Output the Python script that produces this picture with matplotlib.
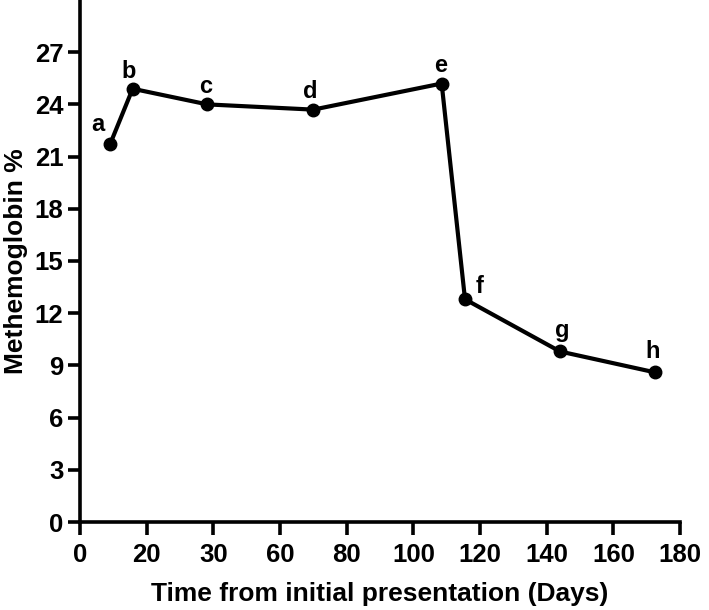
import matplotlib.pyplot as plt

# data
dias = [9.0, 15.8, 38.2, 70.0, 108.5, 115.5, 144.0, 172.5]
metahb = [21.7, 24.9, 24.0, 23.7, 25.2, 12.8, 9.8, 8.6]
etiquetas = ['a', 'b', 'c', 'd', 'e', 'f', 'g', 'h']
# label offsets in pixels (dx, dy)
desplazamientos = [(-12, 20), (-4, 17), (-2, 18), (-3, 18), (-1, 18), (15, 13), (2, 21), (-2, 21)]

xticks_pos = [0, 20, 40, 60, 80, 100, 120, 140, 160, 180]
xticks_txt = ['0', '20', '30', '60', '80', '100', '120', '140', '160', '180']
yticks_pos = [0, 3, 6, 9, 12, 15, 18, 21, 24, 27]

plt.rcParams['font.family'] = ['Liberation Sans', 'DejaVu Sans']
plt.rcParams['font.weight'] = 'bold'

fig = plt.figure(figsize=(7.09, 6.10), dpi=100)
ax = fig.add_axes([80 / 709, 88 / 610, 600 / 709, 522 / 610])

ax.plot(dias, metahb, color='black', linewidth=3.0, marker='o', markersize=9)

for x, y, t, (dx, dy) in zip(dias, metahb, etiquetas, desplazamientos):
    ax.annotate(t, (x, y), xytext=(dx, dy), textcoords='offset pixels',
                ha='center', va='center', fontsize=17, fontweight='bold')

ax.set_xlim(0, 180)
ax.set_ylim(0, 30)
ax.set_xticks(xticks_pos)
ax.set_xticklabels(xticks_txt)
ax.set_yticks(yticks_pos)

for lado in ['top', 'right']:
    ax.spines[lado].set_visible(False)
for lado in ['left', 'bottom']:
    ax.spines[lado].set_linewidth(2.6)

ax.tick_params(width=2.6, length=9, labelsize=18.5)
ax.tick_params(axis='x', pad=6)
ax.tick_params(axis='y', pad=3)
for lbl in ax.get_xticklabels() + ax.get_yticklabels():
    lbl.set_fontweight('bold')

ax.set_xlabel('Time from initial presentation (Days)', fontsize=19, fontweight='bold', labelpad=11)
ax.set_ylabel('Methemoglobin %', fontsize=19, fontweight='bold', labelpad=5)

fig.savefig('out.png', dpi=100)
